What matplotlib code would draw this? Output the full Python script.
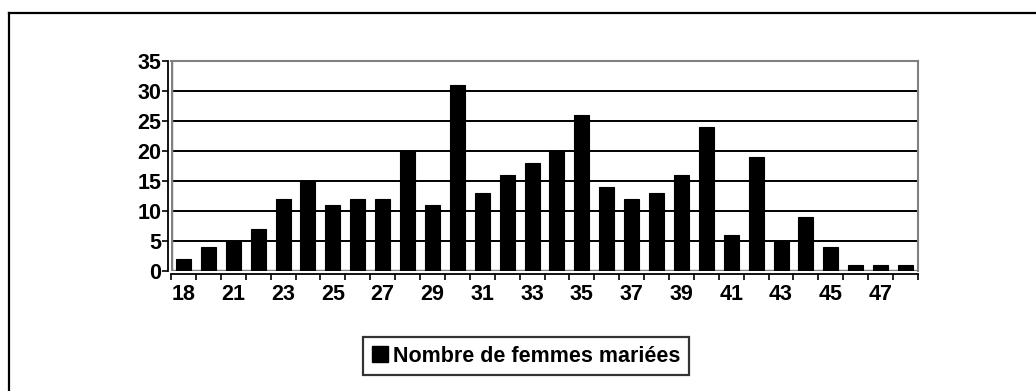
import numpy as np
import matplotlib.pyplot as plt
from matplotlib.lines import Line2D
from matplotlib.patches import Patch

plt.rcParams['font.family'] = ['Liberation Sans', 'DejaVu Sans']
plt.rcParams['font.weight'] = 'bold'

# age groups and counts
ages = [18, 20] + list(range(21, 49))
counts = [2, 4, 5, 7, 12, 15, 11, 12, 12, 20, 11, 31, 13, 16, 18, 20,
          26, 14, 12, 13, 16, 24, 6, 19, 5, 9, 4, 1, 1, 1]
series_name = "Nombre de femmes mariées"

fig = plt.figure(figsize=(10.36, 3.91), dpi=100)
ax = fig.add_axes([171 / 1036, 1 - 271 / 391, (918 - 171) / 1036, 210 / 391])

x = np.arange(len(ages))
ax.bar(x, counts, width=0.6, color='black', edgecolor='black', linewidth=0.8, zorder=3)

ax.set_xlim(-0.5, len(ages) - 0.5)
ax.set_ylim(0, 35)

# gridlines
ax.set_yticks(np.arange(0, 36, 5))
ax.yaxis.grid(True, color='black', linewidth=1.4, zorder=1)
ax.set_axisbelow(True)

# labels on every other bar, tick marks between categories
ax.set_xticks(x[::2])
ax.set_xticklabels([str(a) for a in ages[::2]])
ax.set_xticks(np.arange(-0.5, len(ages), 1), minor=True)
ax.tick_params(axis='x', which='major', length=0, pad=7, labelsize=15.5)
ax.tick_params(axis='x', which='minor', length=4, width=1.2, direction='out', color='black')
ax.tick_params(axis='y', length=4, width=1.2, direction='out', pad=1, labelsize=15.5)

# plot area frame: grey walls, black axes just outside
for side in ['top', 'right']:
    ax.spines[side].set_color('#808080')
    ax.spines[side].set_linewidth(1.5)
for side in ['left', 'bottom']:
    ax.spines[side].set_color('black')
    ax.spines[side].set_linewidth(1.3)
    ax.spines[side].set_position(('outward', 2))
ax.axvline(-0.5, color='#808080', linewidth=2.5, zorder=2)
ax.axhline(0, color='#808080', linewidth=2.5, zorder=2)

# legend
handle = Patch(facecolor='black', edgecolor='black')
leg = fig.legend([handle], [series_name], loc='center',
                 bbox_to_anchor=(526 / 1036, 1 - 356 / 391),
                 frameon=True, fancybox=False, edgecolor='black',
                 prop={'size': 15.5, 'weight': 'bold'},
                 handlelength=0.75, handleheight=0.75, handletextpad=0.25,
                 borderpad=0.4, borderaxespad=0)
leg.get_frame().set_linewidth(1.6)

# outer frame lines (top and left)
fig.add_artist(Line2D([8.5 / 1036, 1.0], [1 - 12.5 / 391, 1 - 12.5 / 391],
                      transform=fig.transFigure, color='black', linewidth=1.6))
fig.add_artist(Line2D([8.5 / 1036, 8.5 / 1036], [0.0, 1 - 12.5 / 391],
                      transform=fig.transFigure, color='black', linewidth=1.6))

fig.savefig('out.png', dpi=100)
